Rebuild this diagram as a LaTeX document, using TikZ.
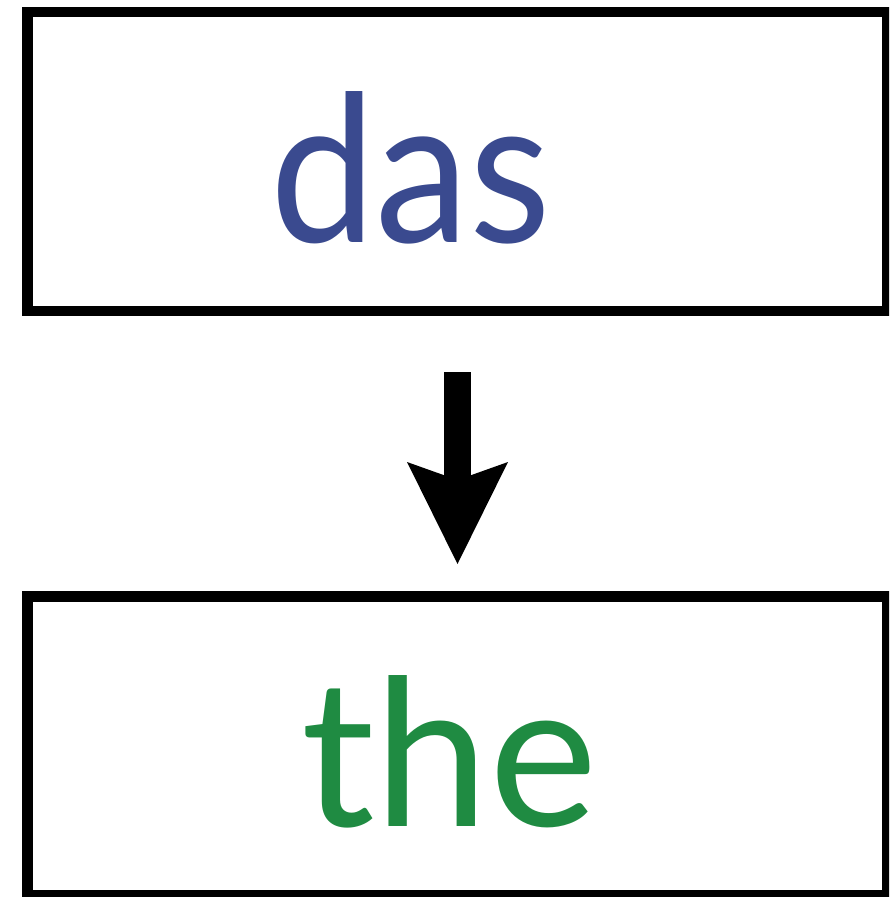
\documentclass[tikz,border=0pt]{standalone}
\usepackage{fontspec}
\setmainfont{Lato}
\usetikzlibrary{arrows.meta}
\definecolor{dasblue}{RGB}{58,74,143}
\definecolor{thegreen}{RGB}{31,139,66}
\tikzset{
  wordbox/.style={draw=black, line width=10.5pt, rectangle, inner sep=0pt,
    minimum width=860pt, minimum height=299pt},
  word/.style={inner sep=0pt, anchor=base west, font=\fontsize{205pt}{205pt}\selectfont},
  bigarrow/.style={line width=27pt,
    -{Stealth[length=102pt, width=101pt, inset=18pt, line width=0pt]}}
}
\begin{document}
\begin{tikzpicture}[x=1pt,y=-1pt]
\useasboundingbox (0,0) rectangle (889,897);
\clip (0,0) rectangle (889,897);
\node[wordbox] (topbox) at (457.5,161.5) {};
\node[wordbox] (botbox) at (457.5,746) {};
\node[word, text=dasblue] (das) at (270,242) {\scalebox{0.92}[1]{das}};
\node[word, text=thegreen] (the) at (301,826) {the};
\draw[bigarrow, shorten <=55.75pt, shorten >=27.25pt] (topbox.south) -- (botbox.north);
\end{tikzpicture}
\end{document}
